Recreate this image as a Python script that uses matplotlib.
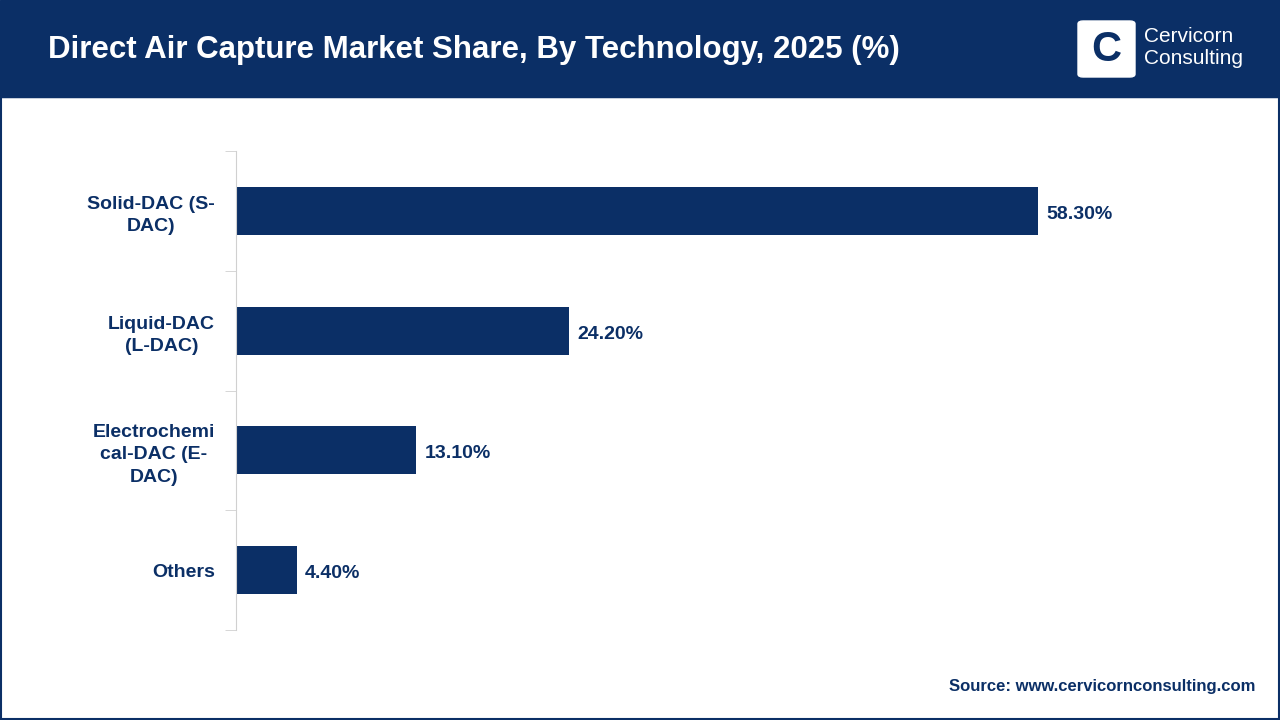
import matplotlib
matplotlib.use("Agg")
import matplotlib.pyplot as plt
from matplotlib.patches import Rectangle, FancyBboxPatch

categories = ["Solid-DAC (S-\nDAC)", "Liquid-DAC\n(L-DAC)", "Electrochemi\ncal-DAC (E-\nDAC)", "Others"]
values = [58.30, 24.20, 13.10, 4.40]
labels = ["58.30%", "24.20%", "13.10%", "4.40%"]

NAVY = "#0b2f66"
plt.rcParams['font.family'] = ['Liberation Sans', 'DejaVu Sans']
fig = plt.figure(figsize=(12.8, 7.2), dpi=100)
W, H = 1280, 720
fig.patches.append(Rectangle((0, 1-97/H), 1, 97/H, transform=fig.transFigure, color="#0b2f66", zorder=0))
fig.patches.append(Rectangle((1/W, 1/H), 1-2/W, 1-98/H, transform=fig.transFigure, fill=False, ec=NAVY, lw=1.5))
fig.text(48/W, 1-50/H, "Direct Air Capture Market Share, By Technology, 2025 (%)", color="white",
         fontsize=22.5, fontweight="bold", va="center")
fig.patches.append(FancyBboxPatch((1078/W, 1-77/H), 57/W, 56/H, boxstyle="round,pad=0,rounding_size=0.004",
                                  transform=fig.transFigure, color="white"))
fig.text(1106/W, 1-50/H, "C", color=NAVY, fontsize=30, fontweight="bold", ha="center", va="center")
fig.text(1144/W, 1-37/H, "Cervicorn", color="white", fontsize=15, va="center")
fig.text(1144/W, 1-59/H, "Consulting", color="white", fontsize=15, va="center")

ax = fig.add_axes([236/W, 1-630/H, 1000/W, 479/H])
y = list(range(len(categories)))
ax.barh(y, values, height=0.4, color=NAVY)
ax.set_ylim(len(categories)-0.5, -0.5)
ax.set_xlim(0, 1000/13.76)
ax.set_yticks(y)
ax.set_yticklabels(categories, fontsize=14, fontweight="bold", color=NAVY, multialignment="center", linespacing=1.4)
ax.set_yticks([i+0.5 for i in range(-1, len(categories))], minor=True)
ax.tick_params(axis="y", which="major", length=0, pad=15)
ax.tick_params(axis="y", which="minor", length=8, color="#d0d0d0")
ax.set_xticks([])
for s in ["top", "right", "bottom"]:
    ax.spines[s].set_visible(False)
ax.spines["left"].set_color("#d0d0d0")
for yi, v, l in zip(y, values, labels):
    ax.text(v + 0.6, yi + 0.03, l, va="center", ha="left", fontsize=14, fontweight="bold", color=NAVY)
fig.text(1255/W, 1-687/H, "Source: www.cervicornconsulting.com", ha="right", va="center",
         fontsize=12, fontweight="bold", color=NAVY)
fig.savefig("out.png", dpi=100)
